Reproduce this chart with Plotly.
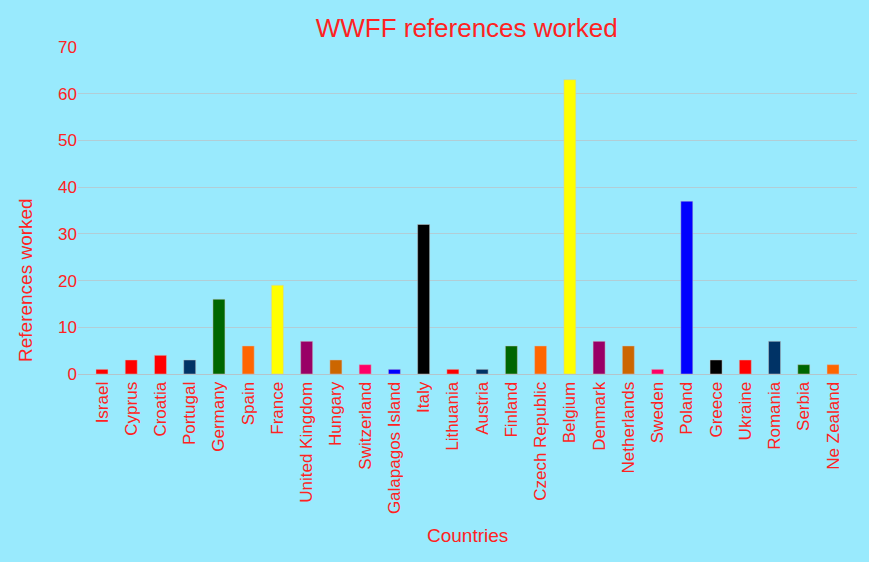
import plotly.graph_objects as go

# Datos
countries = ["Israel", "Cyprus", "Croatia", "Portugal", "Germany", "Spain", "France",
             "United Kingdom", "Hungary", "Switzerland", "Galapagos Island", "Italy",
             "Lithuania", "Austria", "Finland", "Czech Republic", "Belgium", "Denmark",
             "Netherlands", "Sweden", "Poland", "Greece", "Ukraine", "Romania", "Serbia",
             "Ne Zealand"]
references = [1, 3, 4, 3, 16, 6, 19, 7, 3, 2, 1, 32, 1, 1, 6, 6, 63, 7, 6, 1, 37, 3, 3, 7, 2, 2]
bar_colors = ["#FF0000", "#FF0000", "#FF0000", "#003366", "#006600", "#FF6600", "#FFFF00",
              "#990066", "#CC6600", "#FF0066", "#0000FF", "#000000", "#FF0000", "#003366",
              "#006600", "#FF6600", "#FFFF00", "#990066", "#CC6600", "#FF0066", "#0000FF",
              "#000000", "#FF0000", "#003366", "#006600", "#FF6600"]

RED = "#FF2222"
BG = "#99EAFD"

# Área de trazado en píxeles
L, R, T, B = 78, 12, 47, 188
PW, PH = 869 - L - R, 562 - T - B

fig = go.Figure()

fig.add_trace(go.Bar(
    x=countries,
    y=references,
    marker=dict(color=bar_colors, line=dict(color="rgba(200,200,200,0.6)", width=0.8)),
    showlegend=False
))

fig.update_layout(
    width=869, height=562,
    plot_bgcolor=BG,
    paper_bgcolor=BG,
    font=dict(family="Liberation Sans, Arial, sans-serif", color=RED),
    margin=dict(l=L, r=R, t=T, b=B),
    bargap=0.59,
    title=dict(text="WWFF references worked", x=0.537, xanchor="center",
               y=1 - 28 / 562, yanchor="middle",
               font=dict(size=26, color=RED)),
    xaxis=dict(
        range=[-0.82, len(countries) - 0.18],
        tickangle=-90, tickfont=dict(size=17, color=RED),
        showgrid=False, showline=True, linecolor="#B4C4CA", linewidth=1
    ),
    yaxis=dict(
        range=[0, 70], dtick=10, tickfont=dict(size=17, color=RED),
        gridcolor="#B2CDD5", gridwidth=1, zeroline=False
    ),
    # Títulos de ejes como anotaciones (posición igual a la referencia)
    annotations=[
        dict(text="References worked", xref="paper", yref="paper",
             x=(25 - L) / PW, y=(374 - 280) / PH, textangle=-90,
             xanchor="center", yanchor="middle",
             showarrow=False, font=dict(size=19, color=RED)),
        dict(text="Countries", xref="paper", yref="paper",
             x=(467 - L) / PW, y=(374 - 535) / PH,
             xanchor="center", yanchor="middle",
             showarrow=False, font=dict(size=19, color=RED)),
    ]
)

# Quitar el margen del body para que la figura llene la ventana
fig.write_html("out.html", config={"displayModeBar": False},
               post_script="document.body.style.margin='0';")
